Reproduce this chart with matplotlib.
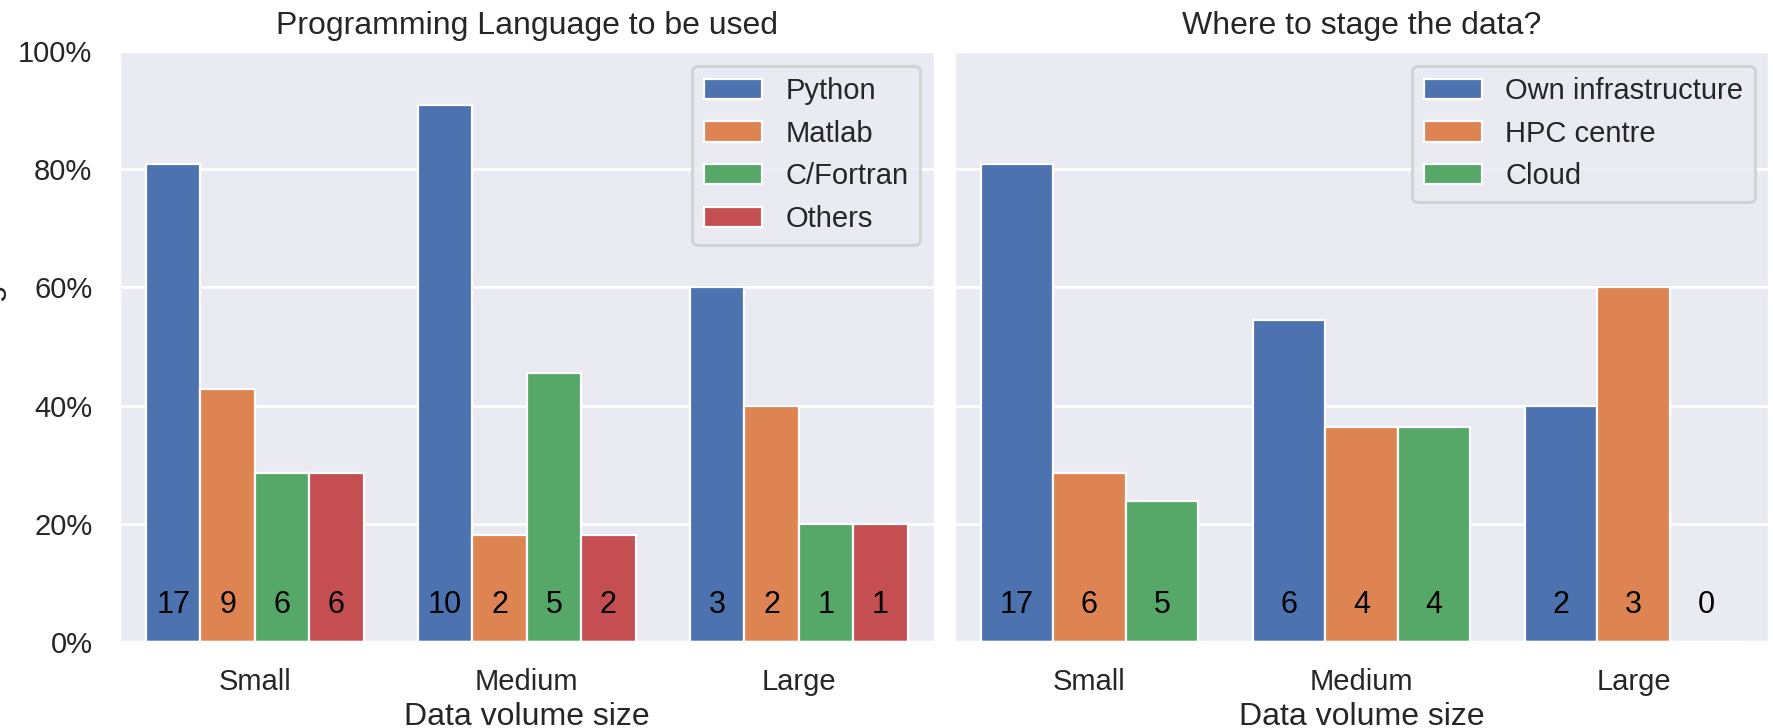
import matplotlib

matplotlib.use("Agg")
import matplotlib.pyplot as plt
import numpy as np
import seaborn as sns
from matplotlib.ticker import PercentFormatter

sizes = ["Small", "Medium", "Large"]
totals = np.array([21, 11, 5])

languages = ["Python", "Matlab", "C/Fortran", "Others"]
lang_counts = np.array([
    [17, 10, 3],
    [9, 2, 2],
    [6, 5, 1],
    [6, 2, 1],
])

staging = ["Own infrastructure", "HPC centre", "Cloud"]
stage_counts = np.array([
    [17, 6, 2],
    [6, 4, 3],
    [5, 4, 0],
])

sns.set_theme(style="darkgrid")
plt.rcParams["font.family"] = ["Liberation Sans", "DejaVu Sans"]
colors = sns.color_palette("deep")

fig, axes = plt.subplots(1, 2, figsize=(8.865, 3.64), dpi=200, sharey=True)
fig.subplots_adjust(left=0.067, right=0.998, top=0.93, bottom=0.118, wspace=0.023)


def grouped(ax, names, counts, title):
    n = len(names)
    width = 0.8 / n
    x = np.arange(len(sizes))
    for i, name in enumerate(names):
        pct = 100.0 * counts[i] / totals
        xs = x - 0.4 + width * (i + 0.5)
        ax.bar(xs, pct, width, color=colors[i], edgecolor="white", lw=0.8, label=name)
        for xi, c in zip(xs, counts[i]):
            ax.text(xi, 6.3, str(c), ha="center", va="center", fontsize=11, color="black")
    ax.set_xticks(x)
    ax.set_xticklabels(sizes, fontsize=10.5)
    ax.set_xlabel("Data volume size", fontsize=11.5, labelpad=2)
    ax.set_title(title, fontsize=11.5)
    ax.set_xlim(-0.5, len(sizes) - 0.5)
    ax.grid(axis="x", visible=False)
    ax.legend(loc="upper right", fontsize=10.5)


grouped(axes[0], languages, lang_counts, "Programming Language to be used")
grouped(axes[1], staging, stage_counts, "Where to stage the data?")

axes[0].set_ylim(0, 100)
axes[0].yaxis.set_major_formatter(PercentFormatter(decimals=0))
axes[0].tick_params(axis="y", labelsize=10.5)
axes[0].set_ylabel("% of usage", fontsize=11.5)
axes[1].tick_params(axis="y", labelleft=False)

fig.savefig("out.png")
